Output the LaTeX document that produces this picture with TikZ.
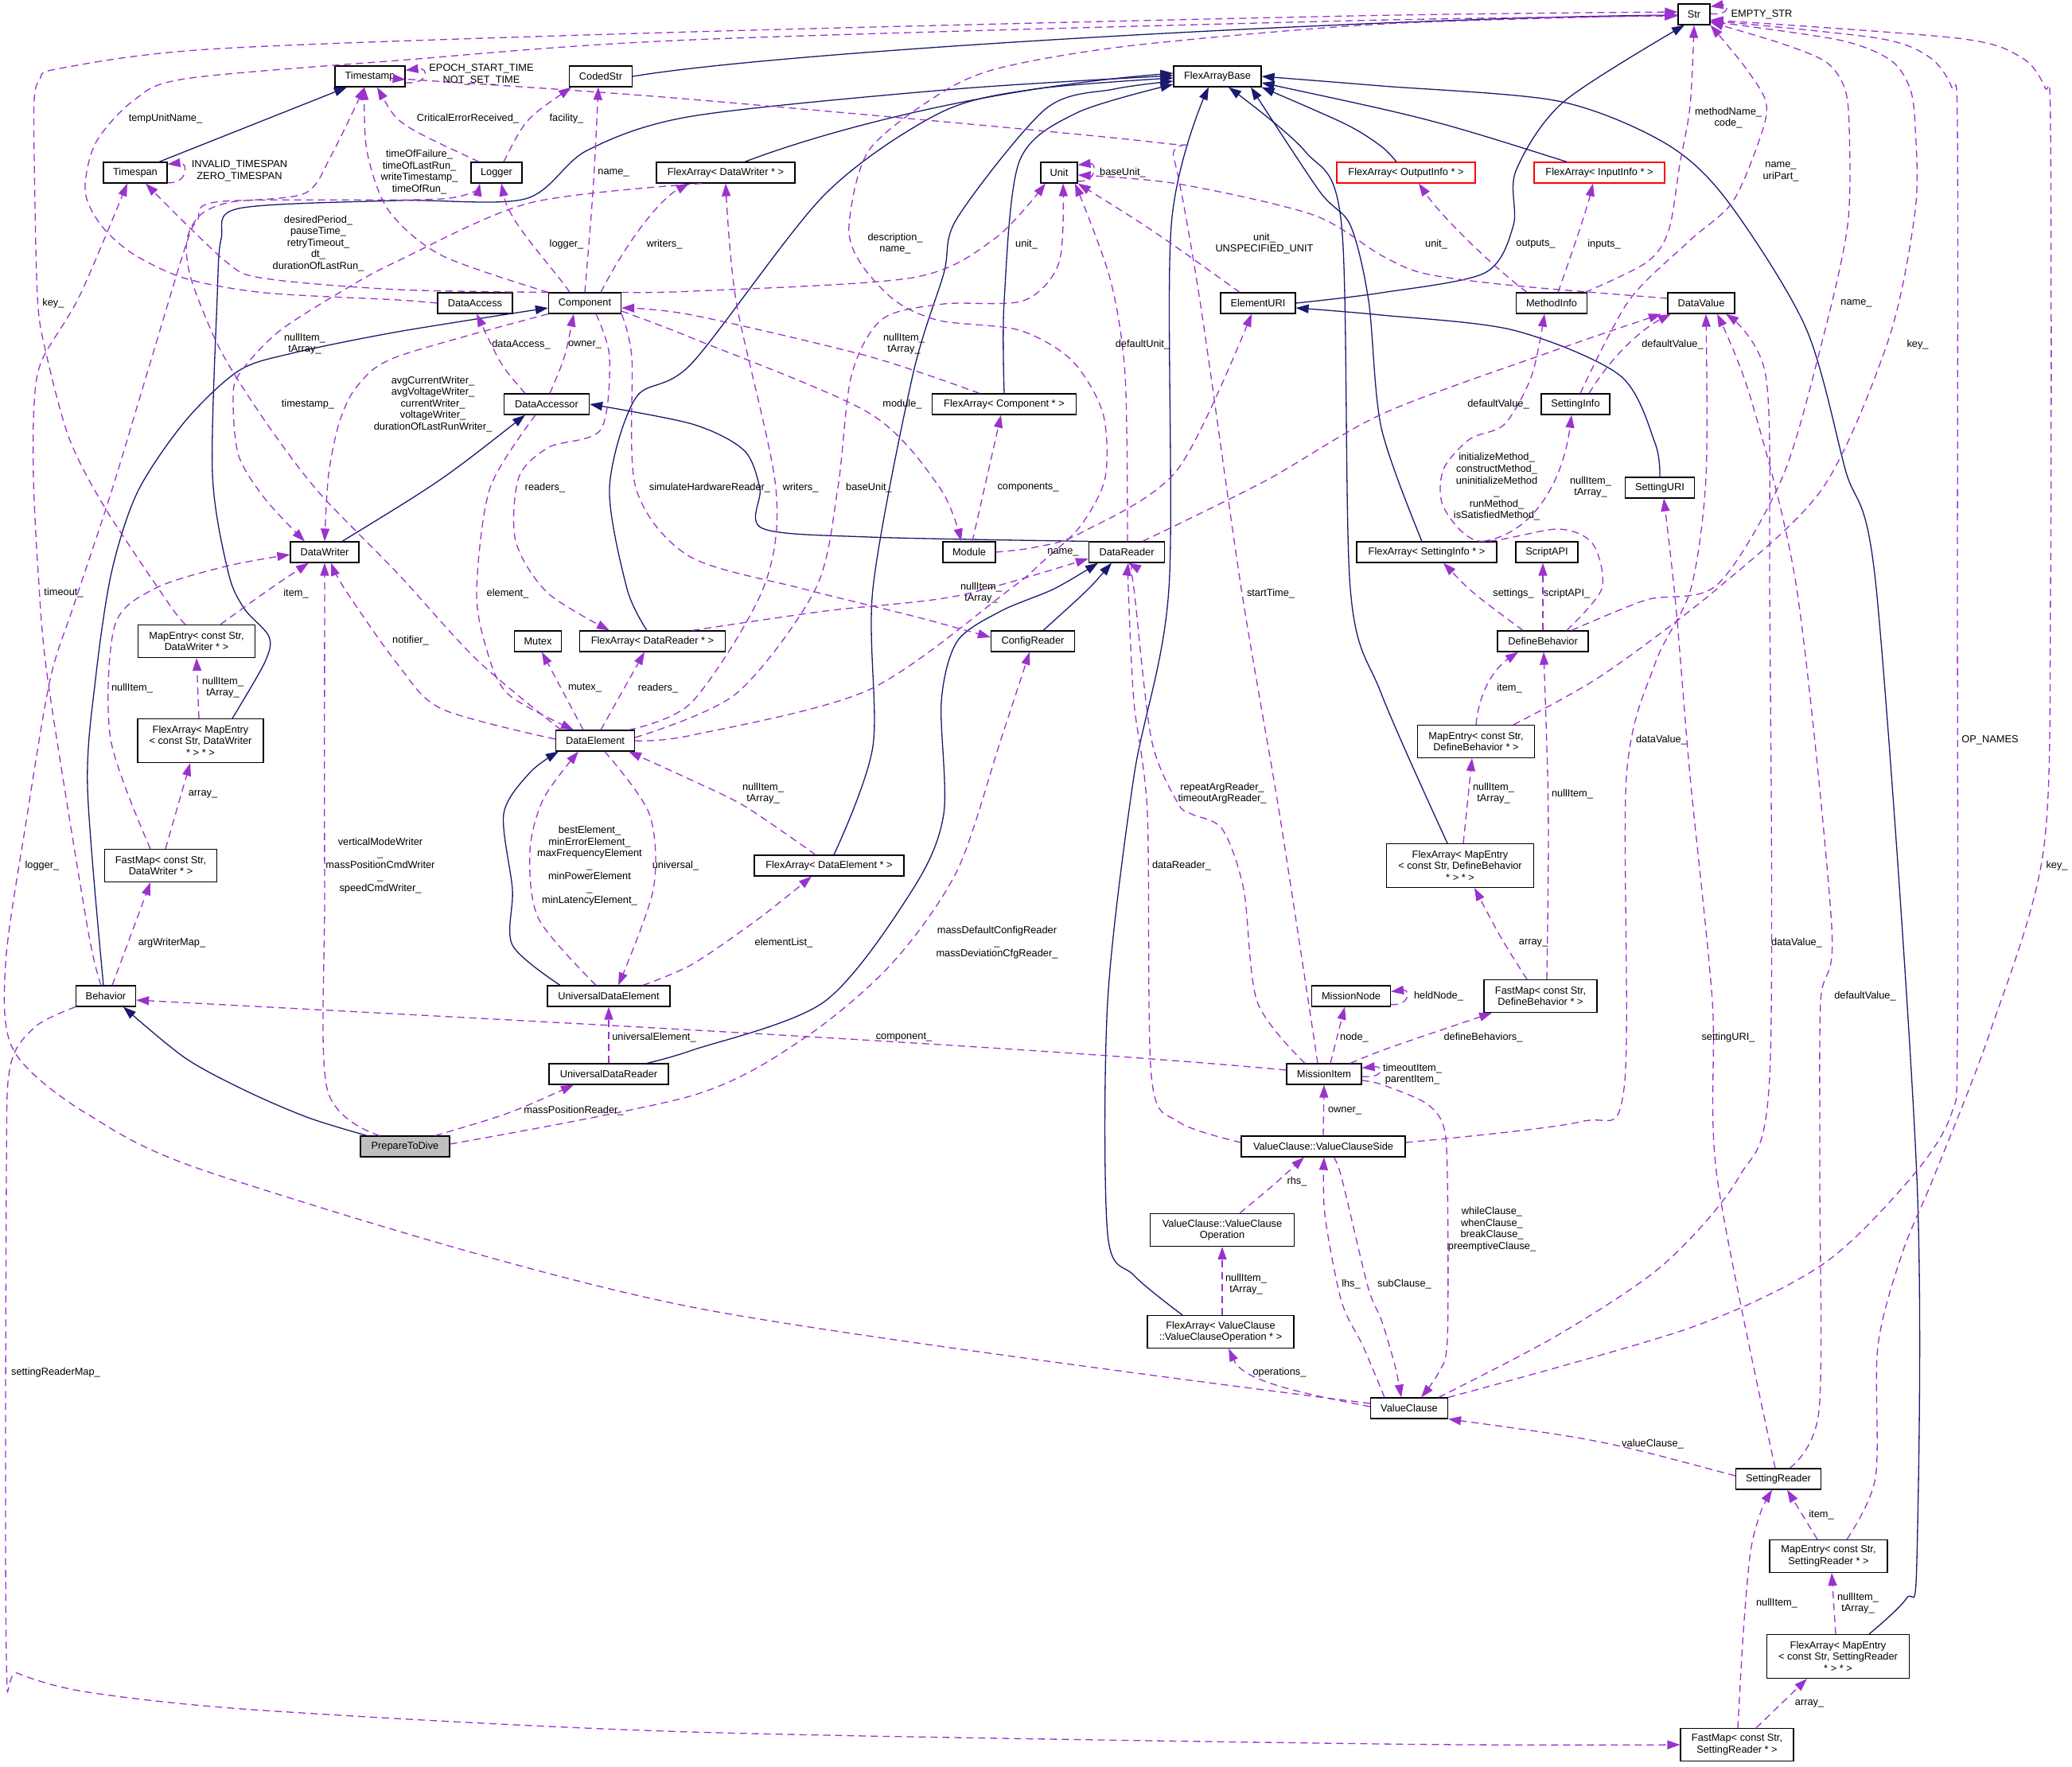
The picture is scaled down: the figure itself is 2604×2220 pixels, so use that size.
\documentclass[tikz,border=0pt]{standalone}
\usepackage{fontspec}
\setmainfont{Liberation Sans}
\usetikzlibrary{arrows.meta,calc}
\definecolor{navyline}{HTML}{191970}
\definecolor{orchidline}{HTML}{9A32CD}
\definecolor{focusgray}{HTML}{BFBFBF}
\newcommand{\dgfont}{\fontsize{12.8pt}{14.6pt}\selectfont}

\begin{document}
\begin{tikzpicture} [x = 1pt, y = -1pt,
	cls/.style = {draw, line width = 1.2pt, fill = white, font = \dgfont, align = center, inner sep = 1pt, minimum height = 26pt},
	redcls/.style = {cls, draw = red},
	focus/.style = {cls, fill = focusgray},
	baseedge/.style = {draw = navyline, line width = 1.3pt, -{Triangle[length = 16pt, width = 11pt]}},
	useedge/.style = {draw = orchidline, line width = 1.3pt, dash pattern = on 9pt off 6pt, -{Triangle[length = 16pt, width = 11pt]}},
	edgetext/.style = {font = \dgfont, align = center, inner sep = 0pt}]
	\fill [white] (0,0) rectangle (2604,2220);

	% classes
	\node [cls, minimum width = 40pt] (str) at (2129,18) {Str};
	\node [cls, minimum width = 88pt] (timestamp) at (465,96) {Timestamp};
	\node [cls, minimum width = 79pt] (codedstr) at (755,96) {CodedStr};
	\node [cls, minimum width = 110pt] (flexbase) at (1530,96) {FlexArrayBase};
	\node [cls, minimum width = 80pt] (timespan) at (170,217) {Timespan};
	\node [cls, minimum width = 64pt] (logger) at (624,217) {Logger};
	\node [cls, minimum width = 174pt] (fadw) at (912,217) {FlexArray< DataWriter * >};
	\node [cls, minimum width = 46pt] (unit) at (1331,217) {Unit};
	\node [redcls, minimum width = 174pt] (faout) at (1767,217) {FlexArray< OutputInfo * >};
	\node [redcls, minimum width = 164pt] (fain) at (2010,217) {FlexArray< InputInfo * >};
	\node [cls, minimum width = 94pt] (dataaccess) at (597,381) {DataAccess};
	\node [cls, minimum width = 91pt] (component) at (735,381) {Component};
	\node [cls, minimum width = 94pt] (elementuri) at (1581,381) {ElementURI};
	\node [cls, minimum width = 89pt] (methodinfo) at (1950,381) {MethodInfo};
	\node [cls, minimum width = 84pt] (datavalue) at (2138,381) {DataValue};
	\node [cls, minimum width = 107pt] (dataaccessor) at (687,508) {DataAccessor};
	\node [cls, minimum width = 181pt] (facomp) at (1262,508) {FlexArray< Component * >};
	\node [cls, minimum width = 86pt] (settinginfo) at (1980,508) {SettingInfo};
	\node [cls, minimum width = 87pt] (settinguri) at (2086,613) {SettingURI};
	\node [cls, minimum width = 86pt] (datawriter) at (408,694) {DataWriter};
	\node [cls, minimum width = 66pt] (module) at (1218,694) {Module};
	\node [cls, minimum width = 95pt] (datareader) at (1416,694) {DataReader};
	\node [cls, minimum width = 176pt] (fasetinfo) at (1793,694) {FlexArray< SettingInfo * >};
	\node [cls, minimum width = 78pt] (scriptapi) at (1944,694) {ScriptAPI};
	\node [cls, minimum width = 147pt, minimum height = 41pt] (medw) at (247,806) {MapEntry< const Str,\\DataWriter * >};
	\node [cls, minimum width = 59pt] (mutex) at (676,806) {Mutex};
	\node [cls, minimum width = 183pt] (fadr) at (820,806) {FlexArray< DataReader * >};
	\node [cls, minimum width = 105pt] (configreader) at (1298,806) {ConfigReader};
	\node [cls, minimum width = 114pt] (definebeh) at (1939,806) {DefineBehavior};
	\node [cls, minimum width = 158pt, minimum height = 55pt] (famedw) at (252,931) {FlexArray< MapEntry\\< const Str, DataWriter\\* > * >};
	\node [cls, minimum width = 99pt] (dataelement) at (748,931) {DataElement};
	\node [cls, minimum width = 147pt, minimum height = 41pt] (medb) at (1855,932) {MapEntry< const Str,\\DefineBehavior * >};
	\node [cls, minimum width = 141pt, minimum height = 41pt] (fmdw) at (202,1088) {FastMap< const Str,\\DataWriter * >};
	\node [cls, minimum width = 188pt] (fade) at (1042,1088) {FlexArray< DataElement * >};
	\node [cls, minimum width = 185pt, minimum height = 55pt] (famedb) at (1835,1088) {FlexArray< MapEntry\\< const Str, DefineBehavior\\* > * >};
	\node [cls, minimum width = 75pt] (behavior) at (133,1252) {Behavior};
	\node [cls, minimum width = 154pt] (ude) at (765,1252) {UniversalDataElement};
	\node [cls, minimum width = 99pt] (missionnode) at (1698,1252) {MissionNode};
	\node [cls, minimum width = 142pt, minimum height = 41pt] (fmdb) at (1936,1252) {FastMap< const Str,\\DefineBehavior * >};
	\node [cls, minimum width = 150pt] (udr) at (765,1350) {UniversalDataReader};
	\node [cls, minimum width = 94pt] (missionitem) at (1664,1350) {MissionItem};
	\node [focus, minimum width = 112pt] (ptd) at (509,1441) {PrepareToDive};
	\node [cls, minimum width = 206pt] (vcside) at (1663,1441) {ValueClause::ValueClauseSide};
	\node [cls, minimum width = 181pt, minimum height = 41pt] (vcop) at (1536,1546) {ValueClause::ValueClause\\Operation};
	\node [cls, minimum width = 184pt, minimum height = 41pt] (favcop) at (1534,1674) {FlexArray< ValueClause\\::ValueClauseOperation * >};
	\node [cls, minimum width = 97pt] (valueclause) at (1771,1770) {ValueClause};
	\node [cls, minimum width = 107pt] (settingreader) at (2235,1859) {SettingReader};
	\node [cls, minimum width = 148pt, minimum height = 41pt] (mesr) at (2298,1956) {MapEntry< const Str,\\SettingReader * >};
	\node [cls, minimum width = 179pt, minimum height = 55pt] (famesr) at (2310,2082) {FlexArray< MapEntry\\< const Str, SettingReader\\* > * >};
	\node [cls, minimum width = 142pt, minimum height = 41pt] (fmsr) at (2183,2193) {FastMap< const Str,\\SettingReader * >};

	% inheritance
	\draw [baseedge] ([xshift = 30pt]timespan.north) -- ([xshift = -29pt]timestamp.south);
	\draw [baseedge] (codedstr.east) .. controls (1000,62) and (1750,22) .. ([yshift = -1pt]str.west);
	\draw [baseedge] plot [smooth, tension = 0.5] coordinates {(elementuri.east) (1736,368) (1866,343) (1902,283) (1905,215) (1965,128) ([xshift = -12pt]str.south)};
	\draw [baseedge] plot [smooth, tension = 0.5] coordinates {(settinguri.north) (2080,557) (2036,472) (1902,415) (1736,396) ([yshift = -6pt]elementuri.east)};
	\draw [baseedge] plot [smooth, tension = 0.5] coordinates {([xshift = -3pt]behavior.north) (110,990) (120,854) (140,720) (173,618) (233,529) (300,466) (367,444) (500,417) ([yshift = -6pt]component.west)};
	\draw [baseedge] ([xshift = 22pt]datawriter.north) .. controls (555,604) .. ([xshift = -27pt]dataaccessor.south);
	\draw [baseedge] plot [smooth, tension = 0.5] coordinates {(datareader.north west) (1092,675) (958,664) (955,614) (935,566) (870,533) (dataaccessor.east)};
	\draw [baseedge] plot [smooth, tension = 0.5] coordinates {([xshift = 48pt]udr.north) (870,1320) (1036,1259) (1147,1118) (1186,1023) (1183,882) (1203,806) (1258,768) (1325,740) ([xshift = -36pt]datareader.south)};
	\draw [baseedge] ([xshift = 13pt]configreader.north) .. controls (1369,740) .. ([xshift = -19pt]datareader.south);
	\draw [baseedge] plot [smooth, tension = 0.5] coordinates {([xshift = -61pt]ude.north) (644,1188) (644,1118) (633,1023) (666,971) ([xshift = -46pt]dataelement.south)};
	\draw [baseedge] plot [smooth, tension = 0.5] coordinates {([xshift = -48pt]ptd.north) (388,1405) (311,1372) (233,1330) ([xshift = 22pt]behavior.south)};
	\draw [baseedge] ([xshift = 24pt]fadw.north) .. controls (1050,160) and (1250,110) .. ([yshift = 4pt]flexbase.west);
	\draw [baseedge] plot [smooth, tension = 0.5] coordinates {([xshift = 40pt]famedw.north) (333,832) (338,800) (307,765) (287,720) (267,596) (273,373) (278,300) (300,262) (500,252) (660,250) (738,189) (870,146) (1200,112) ([yshift = 1pt]flexbase.west)};
	\draw [baseedge] plot [smooth, tension = 0.5] coordinates {([xshift = -7pt]fadr.north) (788,740) (766,613) (799,500) (870,456) (1036,245) (1181,142) (1300,112) ([yshift = -2pt]flexbase.west)};
	\draw [baseedge] plot [smooth, tension = 0.5] coordinates {([xshift = 6pt]fade.north) (1097,938) (1097,740) (1147,472) (1186,344) (1203,274) (1314,137) (1400,112) ([yshift = -6pt]flexbase.west)};
	\draw [baseedge] plot [smooth, tension = 0.5] coordinates {(facomp.north) (1262,378) (1281,203) (1353,142) ([yshift = -10pt]flexbase.west)};
	\draw [baseedge] plot [smooth, tension = 0.5] coordinates {([xshift = -48pt]favcop.north) (1425,1603) (1392,1551) (1392,1259) (1425,976) (1469,740) (1472,283) ([xshift = -11pt]flexbase.south)};
	\draw [baseedge] plot [smooth, tension = 0.5] coordinates {([xshift = -16pt]famedb.north) (1736,872) (1697,740) (1686,283) (1640,190) ([xshift = 14pt]flexbase.south)};
	\draw [baseedge] plot [smooth, tension = 0.5] coordinates {([xshift = -6pt]fasetinfo.north) (1736,538) (1720,378) (1697,283) (1658,240) ([xshift = 42pt]flexbase.south)};
	\draw [baseedge] plot [smooth, tension = 0.5] coordinates {([xshift = -12pt]faout.north) (1736,184) (1691,156) (flexbase.south east)};
	\draw [baseedge] ([xshift = -41pt]fain.north) .. controls (1800,150) .. ([yshift = -8pt]flexbase.east);
	\draw [baseedge] plot [smooth, tension = 0.5] coordinates {([xshift = 39pt]famesr.north) (2396,2009) (2409,1961) (2409,1480) (2358,740) (2319,590) (2269,411) (2169,250) (2091,179) (1958,127) (1736,108) (flexbase.east)};

	% self references
	\draw [useedge] ($(str.east)+(0,-1)$) .. controls +(24,4) and +(24,-4) .. ($(str.north east)+(0,4)$);
	\draw [useedge] ($(timestamp.east)+(0,8)$) .. controls +(30,2) and +(30,-4) .. ($(timestamp.north east)+(0,6)$);
	\draw [useedge] ($(timespan.south east)+(0,-1)$) .. controls +(26,2) and +(26,-3) .. ($(timespan.north east)+(0,3)$);
	\draw [useedge] ($(unit.south east)+(0,-3)$) .. controls +(24,2) and +(24,-3) .. ($(unit.north east)+(0,4)$);
	\draw [useedge] ($(missionnode.south east)+(0,-3)$) .. controls +(24,2) and +(24,-3) .. ($(missionnode.north east)+(0,8)$);
	\draw [useedge] ($(missionitem.east)+(0,3)$) .. controls +(28,3) and +(28,-3) .. ($(missionitem.north east)+(0,6)$);

	% members
	\draw [useedge] plot [smooth, tension = 0.5] coordinates {(dataaccess.west) (500,377) (333,368) (233,350) (167,319) (127,283) (107,240) (120,180) (167,127) (233,99) (500,76) (870,50) (1700,26) ([yshift = -2pt]str.west)};
	\draw [useedge] plot [smooth, tension = 0.5] coordinates {([xshift = -14pt]medw.north) (213,760) (133,640) (87,551) (57,440) (47,373) (43,200) (43,125) (50,100) (75,86) (277,61) (870,40) (1700,20) ([yshift = 3pt]str.west)};
	\draw [useedge] ([xshift = -22pt]logger.north) .. controls (500,156) .. ([xshift = 9pt]timestamp.south);
	\draw [useedge] ([xshift = 9pt]logger.north) .. controls (660,150) .. ([xshift = -37pt]codedstr.south);
	\draw [useedge] plot [smooth, tension = 0.5] coordinates {([xshift = -46pt]component.north) (555,321) (488,264) (461,189) ([xshift = -7pt]timestamp.south)};
	\draw [useedge] (component.north) .. controls (746,236) .. ([xshift = -3pt]codedstr.south);
	\draw [useedge] plot [smooth, tension = 0.5] coordinates {(component.north west) (500,364) (333,350) (283,328) ([xshift = 13pt]timespan.south)};
	\draw [useedge] ([xshift = -19pt]component.north) .. controls (690,330) and (640,280) .. ([xshift = 6pt]logger.south);
	\draw [useedge] ([xshift = 20pt]component.north) .. controls (790,300) and (830,250) .. ([xshift = -46pt]fadw.south);
	\draw [useedge] plot [smooth, tension = 0.5] coordinates {([xshift = -30pt]fadw.south) (666,255) (500,328) (433,364) (350,417) (300,471) (293,506) (300,573) (333,627) ([xshift = -25pt]datawriter.north)};
	\draw [useedge] ([xshift = -27pt]dataaccessor.north) .. controls (630,460) .. ([xshift = 2pt]dataaccess.south);
	\draw [useedge] ([xshift = 4pt]dataaccessor.north) .. controls (710,450) .. ([xshift = -14pt]component.south);
	\draw [useedge] plot [smooth, tension = 0.5] coordinates {(component.south west) (500,448) (450,484) (427,529) (413,596) (datawriter.north)};
	\draw [useedge] plot [smooth, tension = 0.5] coordinates {([xshift = -43pt]dataelement.north) (600,830) (500,721) (400,618) (333,529) (277,440) (240,350) (235,301) (252,270) (290,254) (383,243) (417,194) ([xshift = -7pt]timestamp.south)};
	\draw [useedge] plot [smooth, tension = 0.5] coordinates {([xshift = -14pt]dataaccessor.south) (616,613) (599,740) (610,811) (638,872) ([xshift = -27pt]dataelement.north)};
	\draw [useedge] plot [smooth, tension = 0.5] coordinates {([yshift = 2pt]dataelement.west) (555,891) (499,834) (433,740) ([xshift = 8pt]datawriter.south)};
	\draw [useedge] ([xshift = 30pt]medw.north) .. controls (339,740) .. ([xshift = -20pt]datawriter.south);
	\draw [useedge] plot [smooth, tension = 0.5] coordinates {([xshift = -13pt]fmdw.north) (139,929) (144,787) (194,740) (283,712) ([yshift = -3pt]datawriter.west)};
	\draw [useedge] ([xshift = -2pt]famedw.north) -- (medw.south);
	\draw [useedge] ([xshift = 6pt]fmdw.north) -- ([xshift = -13pt]famedw.south);
	\draw [useedge] ([xshift = 8pt]behavior.north) -- ([xshift = -13pt]fmdw.south);
	\draw [useedge] plot [smooth, tension = 0.5] coordinates {([xshift = -6pt]behavior.north) (110,1166) (60,854) (48,720) (42,600) (43,506) (53,452) (100,372) ([xshift = -10pt]timespan.south)};
	\draw [useedge] plot [smooth, tension = 0.5] coordinates {([yshift = 6pt]valueclause.west) (870,1643) (283,1480) (111,1401) (17,1320) (7,1211) (33,1032) (63,854) (93,760) (140,618) (187,462) (233,310) (248,277) (280,253) (555,250) ([xshift = -21pt]logger.south)};
	\draw [useedge] plot [smooth, tension = 0.5] coordinates {(behavior.south west) (45,1290) (13,1340) (8,1480) (8,2084) (22,2103) (111,2127) (333,2150) (870,2177) (1736,2192) (fmsr.west)};
	\draw [useedge] plot [smooth, tension = 0.5] coordinates {([xshift = -32pt]ptd.north) (411,1368) (408,1118) (datawriter.south)};
	\draw [useedge] plot [smooth, tension = 0.5] coordinates {([xshift = -16pt]ude.north) (677,1155) (666,1070) (683,1004) ([xshift = -21pt]dataelement.south)};
	\draw [useedge] plot [smooth, tension = 0.5] coordinates {([xshift = 12pt]dataelement.south) (816,1023) (821,1118) ([xshift = 12pt]ude.north)};
	\draw [useedge] (udr.north) -- (ude.south);
	\draw [useedge] ([xshift = 38pt]ptd.north) .. controls (640,1400) .. ([xshift = -44pt]udr.south);
	\draw [useedge] plot [smooth, tension = 0.5] coordinates {([yshift = 3pt]ptd.east) (870,1377) (1009,1306) (1120,1212) (1203,1094) (1258,929) ([xshift = -4pt]configreader.south)};
	\draw [useedge] ([yshift = 5pt]missionitem.west) .. controls (1300,1315) and (600,1280) .. ([yshift = -5pt]behavior.east);
	\draw [useedge] ([xshift = 7pt]dataelement.north) -- ([xshift = -10pt]fadr.south);
	\draw [useedge] plot [smooth, tension = 0.5] coordinates {([xshift = 14pt]component.south) (766,449) (755,540) (690,562) (652,600) (648,680) (688,745) ([xshift = -54pt]fadr.north)};
	\draw [useedge] ([xshift = -15pt]dataelement.north) -- ([xshift = 5pt]mutex.south);
	\draw [useedge] plot [smooth, tension = 0.5] coordinates {(component.south east) (794,449) (799,613) (866,699) (1009,740) (1150,775) ([yshift = 5pt]configreader.west)};
	\draw [useedge] plot [smooth, tension = 0.5] coordinates {([xshift = 42pt]dataelement.north) (870,882) (959,740) (975,613) (925,378) (fadw.south)};
	\draw [useedge] plot [smooth, tension = 0.5] coordinates {([yshift = 4pt]dataelement.east) (925,872) (1025,740) (1053,613) (1070,472) (1109,401) (1186,382) (1286,378) (1331,330) ([xshift = 5pt]unit.south)};
	\draw [useedge] plot [smooth, tension = 0.5] coordinates {(dataelement.east) (870,924) (1092,867) (1270,740) (1308,708) (1358,661) (1389,600) (1386,519) (1347,453) (1281,415) (1181,403) (1125,378) (1081,330) (1067,283) (1092,189) (1181,118) (1258,85) (1425,57) (1740,30) ([yshift = -1pt]str.west)};
	\draw [useedge] plot [smooth, tension = 0.5] coordinates {(component.north east) (870,366) (1147,349) (1250,300) ([xshift = -17pt]unit.south)};
	\draw [useedge] plot [smooth, tension = 0.5] coordinates {([xshift = -31pt]facomp.north) (1092,448) (870,396) ([yshift = -6pt]component.east)};
	\draw [useedge] plot [smooth, tension = 0.5] coordinates {([yshift = -10pt]component.east) (870,425) (1092,519) (1181,613) ([xshift = -10pt]module.north)};
	\draw [useedge] ([xshift = 4pt]module.north) -- ([xshift = -4pt]facomp.south);
	\draw [useedge] plot [smooth, tension = 0.5] coordinates {(module.east) (1300,688) (1358,670) (1480,590) ([xshift = -8pt]elementuri.south)};
	\draw [useedge] plot [smooth, tension = 0.5] coordinates {([xshift = 50pt]fadr.north) (1037,768) (1203,749) ([yshift = -8pt]datareader.west)};
	\draw [useedge] plot [smooth, tension = 0.5] coordinates {([xshift = 1pt]datareader.north) (1414,472) (1395,350) ([xshift = 20pt]unit.south)};
	\draw [useedge] ([xshift = -23pt]elementuri.north) .. controls (1450,290) .. (unit.south east);
	\draw [useedge] plot [smooth, tension = 0.5] coordinates {([xshift = 20pt]datareader.north) (1591,604) (1740,519) (1958,439) ([xshift = -50pt]datavalue.south)};
	\draw [useedge] plot [smooth, tension = 0.5] coordinates {([yshift = 6pt]datavalue.west) (1903,359) (1791,344) (1736,321) (1650,270) (1480,231) ([yshift = -3pt]unit.east)};
	\draw [useedge] plot [smooth, tension = 0.5] coordinates {([xshift = -3pt]methodinfo.north east) (2069,330) (2097,290) (2111,207) (2124,133) (str.south)};
	\draw [useedge] plot [smooth, tension = 0.5] coordinates {([xshift = 6pt]settinginfo.north) (2047,378) (2124,302) (2178,253) (2214,167) (2219,127) (2192,83) (str.south east)};
	\draw [useedge] ([xshift = -31pt]methodinfo.north) .. controls (1870,330) and (1810,270) .. ([xshift = 16pt]faout.south);
	\draw [useedge] ([xshift = 8pt]methodinfo.north) .. controls (1975,320) and (1995,260) .. ([xshift = -8pt]fain.south);
	\draw [useedge] ([xshift = 17pt]settinginfo.north) .. controls (2030,440) and (2070,410) .. ([xshift = -38pt]datavalue.south);
	\draw [useedge] ([xshift = 71pt]fasetinfo.north) .. controls (1930,670) and (1965,600) .. ([xshift = -5pt]settinginfo.south);
	\draw [useedge] plot [smooth, tension = 0.5] coordinates {([xshift = 30pt]definebeh.north) (2013,740) (2002,684) (1958,665) (1858,680) (1814,637) (1814,590) (1847,552) (1891,533) (1925,472) ([xshift = -9pt]methodinfo.south)};
	\draw [useedge] ([xshift = -25pt]definebeh.north) .. controls (1850,745) .. ([xshift = 21pt]fasetinfo.south);
	\draw [useedge] (definebeh.north) -- ([xshift = -5pt]scriptapi.south);
	\draw [useedge] plot [smooth, tension = 0.5] coordinates {([xshift = 36pt]definebeh.north) (2069,754) (2158,735) (2240,600) (2291,425) (2322,283) (2324,160) (2318,110) (2295,78) (2240,55) ($(str.east)+(0,10)$)};
	\draw [useedge] plot [smooth, tension = 0.5] coordinates {([xshift = 47pt]medb.north) (2013,849) (2158,740) (2291,613) (2374,425) (2407,264) (2407,160) (2400,110) (2375,75) (2310,50) ($(str.east)+(0,9)$)};
	\draw [useedge] plot [smooth, tension = 0.5] coordinates {(valueclause.north east) (2124,1669) (2291,1589) (2402,1480) (2452,1401) (2460,1306) (2460,740) (2460,160) (2453,110) (2425,72) (2360,48) ($(str.east)+(0,8)$)};
	\draw [useedge] plot [smooth, tension = 0.5] coordinates {([xshift = 23pt]mesr.north) (2357,1857) (2360,1692) (2391,1574) (2430,1480) (2500,1300) (2568,1070) (2577,740) (2577,160) (2570,110) (2540,72) (2460,48) ($(str.east)+(0,7)$)};
	\draw [useedge] plot [smooth, tension = 0.5] coordinates {([yshift = 5pt]vcside.east) (1986,1410) (2041,1368) (2044,976) (2080,834) (2125,740) (2144,600) ([xshift = 6pt]datavalue.south)};
	\draw [useedge] plot [smooth, tension = 0.5] coordinates {([xshift = 37pt]valueclause.north) (1958,1678) (2091,1589) (2185,1480) (2224,1353) (2224,740) (2219,472) ([xshift = 31pt]datavalue.south)};
	\draw [useedge] plot [smooth, tension = 0.5] coordinates {([xshift = 14pt]settingreader.north) (2286,1773) (2287,1480) (2288,1259) (2302,1165) (2258,740) (2200,500) ([xshift = 20pt]datavalue.south)};
	\draw [useedge] plot [smooth, tension = 0.5] coordinates {([xshift = -4pt]settingreader.north) (2158,1480) (2152,1259) (2124,976) (2106,760) ([xshift = 5pt]settinguri.south)};
	\draw [useedge] ([yshift = 4pt]settingreader.west) .. controls (2013,1810) .. (valueclause.south east);
	\draw [useedge] ([xshift = -14pt]mesr.north) -- ([xshift = 11pt]settingreader.south);
	\draw [useedge] ([xshift = -3pt]famesr.north) -- ([xshift = 4pt]mesr.south);
	\draw [useedge] ([xshift = 24pt]fmsr.north) -- ([xshift = -39pt]famesr.south);
	\draw [useedge] plot [smooth, tension = 0.5] coordinates {([xshift = 1pt]fmsr.north) (2191,2050) (2200,1950) (2213,1900) ([xshift = -8pt]settingreader.south)};
	\draw [useedge] (medb.north) .. controls (1860,860) and (1885,835) .. ([xshift = -31pt]definebeh.south);
	\draw [useedge] ([xshift = 4pt]famedb.north) -- ([xshift = -5pt]medb.south);
	\draw [useedge] ([xshift = 8pt]fmdb.north) .. controls (1947,1023) .. ([xshift = 1pt]definebeh.south);
	\draw [useedge] ([xshift = -17pt]fmdb.north) .. controls (1886,1179) .. ([xshift = 18pt]famedb.south);
	\draw [useedge] ([xshift = 33pt]missionitem.north) .. controls (1736,1320) .. ([xshift = -61pt]fmdb.south);
	\draw [useedge] plot [smooth, tension = 0.5] coordinates {([yshift = -8pt]missionitem.east) (1736,1363) (1791,1386) (1814,1415) (1819,1480) (1819,1683) (1808,1725) ([xshift = 15pt]valueclause.north)};
	\draw [useedge] ([xshift = 8pt]missionitem.north) -- ([xshift = -8pt]missionnode.south);
	\draw [useedge] plot [smooth, tension = 0.5] coordinates {([xshift = -24pt]missionitem.north) (1580,1259) (1563,1118) (1536,1042) (1497,1023) (1480,1009) (1447,929) (1425,740) ([xshift = 2pt]datareader.south)};
	\draw [useedge] plot [smooth, tension = 0.5] coordinates {([yshift = 5pt]vcside.west) (1481,1410) (1447,1353) (1442,1023) (1425,882) (1418,740) ([xshift = 2pt]datareader.south)};
	\draw [useedge] plot [smooth, tension = 0.5] coordinates {([xshift = -8pt]missionitem.north) (1608,1023) (1560,740) (1508,378) (1475,198) (1453,179) (870,125) (533,101) ($(timestamp.east)+(0,4)$)};
	\draw [useedge] (vcside.north) -- (missionitem.south);
	\draw [useedge] ([xshift = 22pt]vcop.north) .. controls (1600,1490) .. ([xshift = -24pt]vcside.south);
	\draw [useedge] plot [smooth, tension = 0.5] coordinates {([xshift = -31pt]valueclause.north) (1713,1692) (1686,1636) (1665,1527) ([xshift = 1pt]vcside.south)};
	\draw [useedge] plot [smooth, tension = 0.5] coordinates {([xshift = 13pt]vcside.south) (1686,1480) (1719,1617) (1736,1659) (1753,1716) ([xshift = -10pt]valueclause.north)};
	\draw [useedge] ([xshift = 2pt]favcop.north) -- (vcop.south);
	\draw [useedge] ([yshift = 2pt]valueclause.west) .. controls (1600,1745) and (1560,1730) .. ([xshift = 10pt]favcop.south);
	\draw [useedge] plot [smooth, tension = 0.5] coordinates {([xshift = -17pt]fade.north) (937,1014) (870,981) ([xshift = 42pt]dataelement.south)};
	\draw [useedge] plot [smooth, tension = 0.5] coordinates {([xshift = 43pt]ude.north) (870,1212) (953,1155) ([xshift = -22pt]fade.south)};

	% member names
	\node [edgetext] (tEmpty) at (2214,18) {EMPTY\_STR};
	\node [edgetext] (tEpoch) at (605,94) {EPOCH\_START\_TIME\\NOT\_SET\_TIME};
	\node [edgetext] (tTempUnit) at (208,149) {tempUnitName\_};
	\node [edgetext] (tCritical) at (588,149) {CriticalErrorReceived\_};
	\node [edgetext] (tFacility) at (712,149) {facility\_};
	\node [edgetext] (tInvalid) at (301,215) {INVALID\_TIMESPAN\\ZERO\_TIMESPAN};
	\node [edgetext] (tTimeOf) at (527,216) {timeOfFailure\_\\timeOfLastRun\_\\writeTimestamp\_\\timeOfRun\_};
	\node [edgetext] (tCodedName) at (771,217) {name\_};
	\node [edgetext] (tDesired) at (400,306) {desiredPeriod\_\\pauseTime\_\\retryTimeout\_\\dt\_\\durationOfLastRun\_};
	\node [edgetext] (tLogger) at (712,307) {logger\_};
	\node [edgetext] (tWriters) at (835,307) {writers\_};
	\node [edgetext] (tKeyDW) at (67,381) {key\_};
	\node [edgetext] (tNullDW) at (383,432) {nullItem\_\\tArray\_};
	\node [edgetext] (tDataAccess) at (655,433) {dataAccess\_};
	\node [edgetext] (tOwner) at (735,433) {owner\_};
	\node [edgetext] (tAvg) at (544,508) {avgCurrentWriter\_\\avgVoltageWriter\_\\currentWriter\_\\voltageWriter\_\\durationOfLastRunWriter\_};
	\node [edgetext] (tTimestamp) at (387,508) {timestamp\_};
	\node [edgetext] (tReadersC) at (685,613) {readers\_};
	\node [edgetext] (tSimulate) at (892,613) {simulateHardwareReader\_};
	\node [edgetext] (tDescription) at (1125,306) {description\_\\name\_};
	\node [edgetext] (tUnitC) at (1290,307) {unit\_};
	\node [edgetext] (tBaseUnit) at (1411,217) {baseUnit\_};
	\node [edgetext] (tUnspec) at (1589,306) {unit\_\\UNSPECIFIED\_UNIT};
	\node [edgetext] (tDefaultUnit) at (1436,433) {defaultUnit\_};
	\node [edgetext] (tNullComp) at (1136,432) {nullItem\_\\tArray\_};
	\node [edgetext] (tModule) at (1134,508) {module\_};
	\node [edgetext] (tWritersE) at (1006,613) {writers\_};
	\node [edgetext] (tBaseUnitE) at (1092,613) {baseUnit\_};
	\node [edgetext] (tComponents) at (1292,613) {components\_};
	\node [edgetext] (tNameM) at (1336,694) {name\_};
	\node [edgetext] (tNullDR) at (1233,745) {nullItem\_\\tArray\_};
	\node [edgetext] (tMethodName) at (2172,148) {methodName\_\\code\_};
	\node [edgetext] (tUriPart) at (2238,216) {name\_\\uriPart\_};
	\node [edgetext] (tOutputs) at (1930,307) {outputs\_};
	\node [edgetext] (tInputs) at (2016,307) {inputs\_};
	\node [edgetext] (tUnitV) at (1805,307) {unit\_};
	\node [edgetext] (tNameDB) at (2333,381) {name\_};
	\node [edgetext] (tKeyDB) at (2410,433) {key\_};
	\node [edgetext] (tDefaultSI) at (2102,433) {defaultValue\_};
	\node [edgetext] (tDefaultDR) at (1883,508) {defaultValue\_};
	\node [edgetext] (tMethods) at (1881,612) {initializeMethod\_\\constructMethod\_\\uninitializeMethod\\\_\\runMethod\_\\isSatisfiedMethod\_};
	\node [edgetext] (tNullSI) at (1999,612) {nullItem\_\\tArray\_};
	\node [edgetext] (tSettings) at (1902,746) {settings\_};
	\node [edgetext] (tScriptAPI) at (1969,746) {scriptAPI\_};
	\node [edgetext] (tStartTime) at (1597,746) {startTime\_};
	\node [edgetext] (tTimeout) at (80,745) {timeout\_};
	\node [edgetext] (tItemDW) at (372,746) {item\_};
	\node [edgetext] (tElement) at (638,746) {element\_};
	\node [edgetext] (tNotifier) at (516,805) {notifier\_};
	\node [edgetext] (tMutex) at (735,865) {mutex\_};
	\node [edgetext] (tReadersE) at (827,865) {readers\_};
	\node [edgetext] (tNullFMDW) at (166,865) {nullItem\_};
	\node [edgetext] (tNullMEDW) at (280,864) {nullItem\_\\tArray\_};
	\node [edgetext] (tItemDB) at (1897,865) {item\_};
	\node [edgetext] (tDataValueS) at (2088,930) {dataValue\_};
	\node [edgetext] (tOpNames) at (2501,930) {OP\_NAMES};
	\node [edgetext] (tNullDE) at (959,997) {nullItem\_\\tArray\_};
	\node [edgetext] (tRepeat) at (1536,997) {repeatArgReader\_\\timeoutArgReader\_};
	\node [edgetext] (tArrayDW) at (255,998) {array\_};
	\node [edgetext] (tNullMEDB) at (1877,997) {nullItem\_\\tArray\_};
	\node [edgetext] (tNullFMDB) at (1976,998) {nullItem\_};
	\node [edgetext] (tLoggerV) at (53,1088) {logger\_};
	\node [edgetext] (tVertical) at (478,1088) {verticalModeWriter\\\_\\massPositionCmdWriter\\\_\\speedCmdWriter\_};
	\node [edgetext] (tBest) at (741,1088) {bestElement\_\\minErrorElement\_\\maxFrequencyElement\\\_\\minPowerElement\\\_\\minLatencyElement\_};
	\node [edgetext] (tUniversal) at (849,1088) {universal\_};
	\node [edgetext] (tDataReader) at (1485,1088) {dataReader\_};
	\node [edgetext] (tKeySR) at (2585,1088) {key\_};
	\node [edgetext] (tArgWriter) at (216,1185) {argWriterMap\_};
	\node [edgetext] (tElementList) at (985,1185) {elementList\_};
	\node [edgetext] (tMassDefault) at (1253,1185) {massDefaultConfigReader\\\_\\massDeviationCfgReader\_};
	\node [edgetext] (tArrayDB) at (1927,1185) {array\_};
	\node [edgetext] (tDataValueC) at (2258,1185) {dataValue\_};
	\node [edgetext] (tHeldNode) at (1808,1252) {heldNode\_};
	\node [edgetext] (tDefaultSR) at (2344,1252) {defaultValue\_};
	\node [edgetext] (tUniversalEl) at (822,1304) {universalElement\_};
	\node [edgetext] (tComponent) at (1136,1304) {component\_};
	\node [edgetext] (tNode) at (1702,1304) {node\_};
	\node [edgetext] (tDefineBeh) at (1864,1304) {defineBehaviors\_};
	\node [edgetext] (tSettingURI) at (2172,1304) {settingURI\_};
	\node [edgetext] (tTimeoutItem) at (1775,1350) {timeoutItem\_\\parentItem\_};
	\node [edgetext] (tMassPos) at (721,1396) {massPositionReader\_};
	\node [edgetext] (tOwnerS) at (1690,1396) {owner\_};
	\node [edgetext] (tRhs) at (1630,1485) {rhs\_};
	\node [edgetext] (tClauses) at (1875,1545) {whileClause\_\\whenClause\_\\breakClause\_\\preemptiveClause\_};
	\node [edgetext] (tLhs) at (1698,1614) {lhs\_};
	\node [edgetext] (tSubClause) at (1765,1614) {subClause\_};
	\node [edgetext] (tNullVC) at (1566,1614) {nullItem\_\\tArray\_};
	\node [edgetext] (tSettingMap) at (70,1725) {settingReaderMap\_};
	\node [edgetext] (tOperations) at (1608,1725) {operations\_};
	\node [edgetext] (tValueClause) at (2077,1815) {valueClause\_};
	\node [edgetext] (tItemSR) at (2289,1904) {item\_};
	\node [edgetext] (tNullFMSR) at (2233,2015) {nullItem\_};
	\node [edgetext] (tNullMESR) at (2335,2015) {nullItem\_\\tArray\_};
	\node [edgetext] (tArraySR) at (2274,2141) {array\_};
\end{tikzpicture}
\end{document}
